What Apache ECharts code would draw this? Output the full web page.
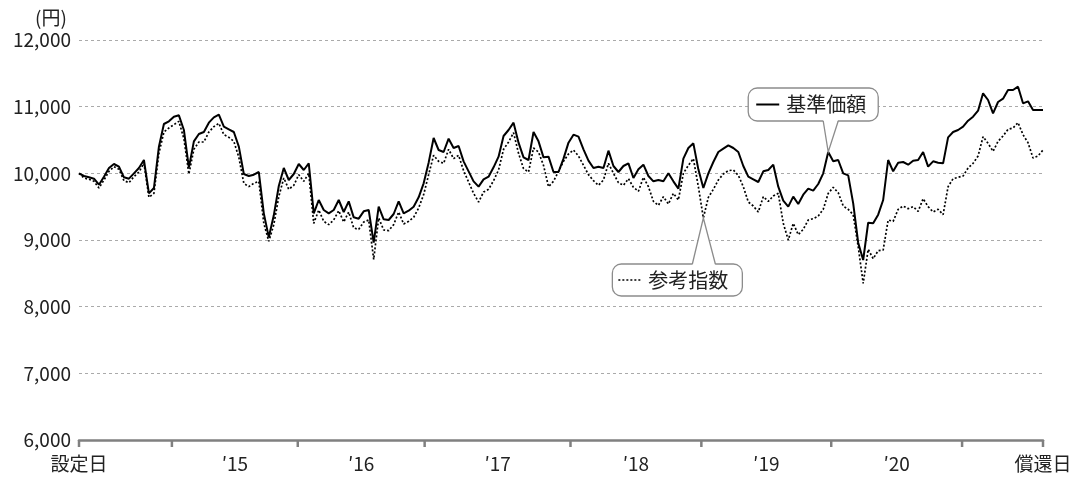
<!DOCTYPE html>
<html><head><meta charset="utf-8">
<script src="https://cdn.jsdelivr.net/npm/echarts@6/dist/echarts.min.js"></script>
<style>html,body{margin:0;padding:0;background:#fff}#c{width:1075px;height:478px}</style>
</head><body><div id="c"></div>
<script>
// 基準価額 (fund NAV), sampled at even steps from 設定日 to 償還日
const navValues = [
10000,9960,9940,9920,9830,9950,10080,10140,10100,9940,
9920,10000,10080,10200,9700,9780,10400,10740,10780,10850,
10870,10650,10085,10480,10590,10620,10760,10840,10880,10700,
10660,10620,10400,9990,9960,9980,10020,9400,9040,9370,
9810,10080,9900,9990,10140,10050,10150,9400,9600,9450,
9400,9450,9600,9420,9580,9340,9320,9430,9450,8960,
9500,9310,9300,9390,9580,9400,9440,9500,9640,9850,
10160,10530,10350,10320,10520,10380,10410,10180,10030,9880,
9800,9910,9950,10090,10250,10560,10650,10760,10460,10240,
10200,10620,10480,10240,10250,10020,10020,10220,10460,10580,
10550,10360,10190,10080,10100,10080,10340,10110,10020,10110,
10150,9930,10060,10130,9960,9880,9900,9880,10000,9880,
9770,10220,10380,10450,10060,9780,10000,10170,10320,10370,
10420,10380,10320,10110,9950,9910,9870,10030,10050,10130,
9800,9590,9500,9650,9540,9680,9770,9740,9840,10000,
10320,10180,10200,10000,9970,9550,8960,8700,9260,9250,
9380,9600,10200,10030,10160,10170,10130,10190,10200,10320,
10100,10180,10160,10150,10540,10620,10650,10700,10790,10850,
10940,11200,11100,10900,11070,11120,11250,11250,11300,11050,
11080,10950,10950,10950
];
// 参考指数 (reference index)
const refValues = [
10000,9930,9910,9880,9780,9900,10030,10100,10060,9890,
9860,9950,10020,10150,9640,9700,10300,10620,10680,10730,
10780,10520,9990,10360,10470,10470,10620,10700,10750,10580,
10540,10480,10240,9850,9800,9850,9880,9250,8980,9230,
9650,9930,9760,9820,9980,9880,10000,9250,9450,9280,
9230,9300,9440,9270,9420,9180,9160,9270,9300,8710,
9330,9150,9140,9230,9420,9240,9280,9340,9480,9680,
9980,10270,10180,10150,10360,10220,10270,10040,9870,9700,
9570,9720,9760,9890,10050,10360,10470,10610,10300,10070,
10020,10380,10320,10120,9800,9880,10030,10180,10290,10350,
10260,10120,9980,9890,9820,9900,10150,10000,9860,9820,
9920,9790,9730,9940,9800,9580,9520,9650,9540,9700,
9600,10000,10120,10220,9800,9330,9640,9760,9900,9990,
10040,10050,9970,9800,9570,9510,9420,9650,9580,9660,
9700,9250,9000,9250,9080,9160,9300,9320,9360,9460,
9700,9790,9710,9510,9460,9380,8900,8350,8860,8720,
8840,8850,9300,9280,9460,9510,9470,9500,9430,9620,
9500,9420,9460,9380,9800,9920,9940,9960,10080,10150,
10260,10550,10450,10330,10480,10560,10660,10680,10760,10580,
10460,10230,10260,10350
];
const tickPositions = [0, 18.6, 43.8, 69.2, 98.4, 124.6, 150.6, 176.8, 193];
const labelPositions = [0, 31.2, 56.5, 83.8, 111.5, 137.6, 163.7, 193];
const labelTexts = ['設定日', '′15', '′16', '′17', '′18', '′19', '′20', '償還日'];
const yTicks = [6000, 7000, 8000, 9000, 10000, 11000, 12000];
const seriesNames = ['基準価額', '参考指数'];
const unitLabel = '(円)';
const navTipIndex = 150;
const refTipIndex = 125;

const FONT = '"Noto Sans CJK JP", "Noto Sans", sans-serif';
const AXIS_COLOR = '#808080';
const chart = echarts.init(document.getElementById('c'), null, {renderer: 'canvas'});
const toPairs = arr => arr.map((v, i) => [i, v]);

chart.setOption({
  animation: false,
  backgroundColor: '#fff',
  grid: {left: 79, right: 32, top: 40, bottom: 38, containLabel: false},
  xAxis: {
    type: 'value', min: 0, max: navValues.length - 1,
    splitLine: {show: false},
    axisLine: {show: true, lineStyle: {color: AXIS_COLOR, width: 2.5}},
    axisTick: {show: false},
    axisLabel: {
      customValues: labelPositions, margin: 14,
      fontFamily: FONT, fontSize: 19, color: '#222',
      formatter: v => {
        let best = 0;
        labelPositions.forEach((p, k) => { if (Math.abs(p - v) < Math.abs(labelPositions[best] - v)) best = k; });
        return labelTexts[best];
      }
    }
  },
  yAxis: {
    type: 'value', min: yTicks[0], max: yTicks[yTicks.length - 1], interval: 1000,
    axisLine: {show: false}, axisTick: {show: false},
    splitLine: {show: true, lineStyle: {color: '#aaaaaa', type: [3, 3], width: 1}},
    axisLabel: {margin: 8, fontFamily: FONT, fontSize: 19, color: '#222',
      formatter: v => v.toLocaleString('en-US')}
  },
  series: [
    {name: seriesNames[1], type: 'line', data: toPairs(refValues), showSymbol: false, z: 2,
     lineStyle: {color: '#000', width: 1.7, type: [2, 2]}},
    {name: seriesNames[0], type: 'line', data: toPairs(navValues), showSymbol: false, z: 3,
     lineStyle: {color: '#000', width: 2}}
  ]
});

function callout(tip, box, base, sampleX, textX, dotted, text, below) {
  const [tx, ty] = tip;
  const L = tx + box[0], R = tx + box[1], T = ty + box[2], B = ty + box[3];
  const edgeY = below ? T : B;
  const inset = below ? 1.5 : -1.5;
  const midY = (T + B) / 2;
  return [
    {type: 'rect', shape: {x: L, y: T, width: R - L, height: B - T, r: 9}, z: 10,
     style: {fill: '#fff', stroke: '#8c8c8c', lineWidth: 1.3}},
    {type: 'polygon', z: 11, shape: {points: [[tx + base[0], edgeY + inset], [tx, ty], [tx + base[1], edgeY + inset]]},
     style: {fill: '#fff', stroke: null}},
    {type: 'polyline', z: 12, shape: {points: [[tx + base[0], edgeY], [tx, ty], [tx + base[1], edgeY]]},
     style: {fill: null, stroke: '#8c8c8c', lineWidth: 1.3}},
    {type: 'line', z: 12, shape: {x1: tx + sampleX[0], y1: midY, x2: tx + sampleX[1], y2: midY},
     style: {stroke: '#000', lineWidth: dotted ? 1.6 : 2, lineDash: dotted ? [2, 2] : null}},
    {type: 'text', z: 12, x: tx + textX, y: midY,
     style: {text: text, font: '20px ' + FONT, fill: '#222', verticalAlign: 'middle', align: 'left'}}
  ];
}

const navTip = chart.convertToPixel({seriesIndex: 1}, [navTipIndex, navValues[navTipIndex]]);
const refTip = chart.convertToPixel({seriesIndex: 0}, [refTipIndex, refValues[refTipIndex]]);
const gridRect = chart.getModel().getComponent('grid').coordinateSystem.getRect();
const axisY = chart.convertToPixel({seriesIndex: 0}, [0, yTicks[0]])[1];
const tickMarks = tickPositions.map(t => {
  const x = chart.convertToPixel({seriesIndex: 0}, [t, yTicks[0]])[0];
  return {type: 'line', z: 5, shape: {x1: x, y1: axisY, x2: x, y2: axisY + 7},
          style: {stroke: AXIS_COLOR, lineWidth: 2.5}};
});

chart.setOption({
  graphic: [
    ...tickMarks,
    ...callout(navTip, [-80, 50, -64, -31], [-5, 10], [-72, -49], -42, false, seriesNames[0], false),
    ...callout(refTip, [-91, 39, 46, 78], [-11, 12], [-85, -61], -55, true, seriesNames[1], true),
    {type: 'text', z: 12, x: gridRect.x - 28, y: gridRect.y - 22,
     style: {text: unitLabel, font: '19px ' + FONT, fill: '#222', align: 'center', verticalAlign: 'middle'}}
  ]
});
</script>
</body></html>
